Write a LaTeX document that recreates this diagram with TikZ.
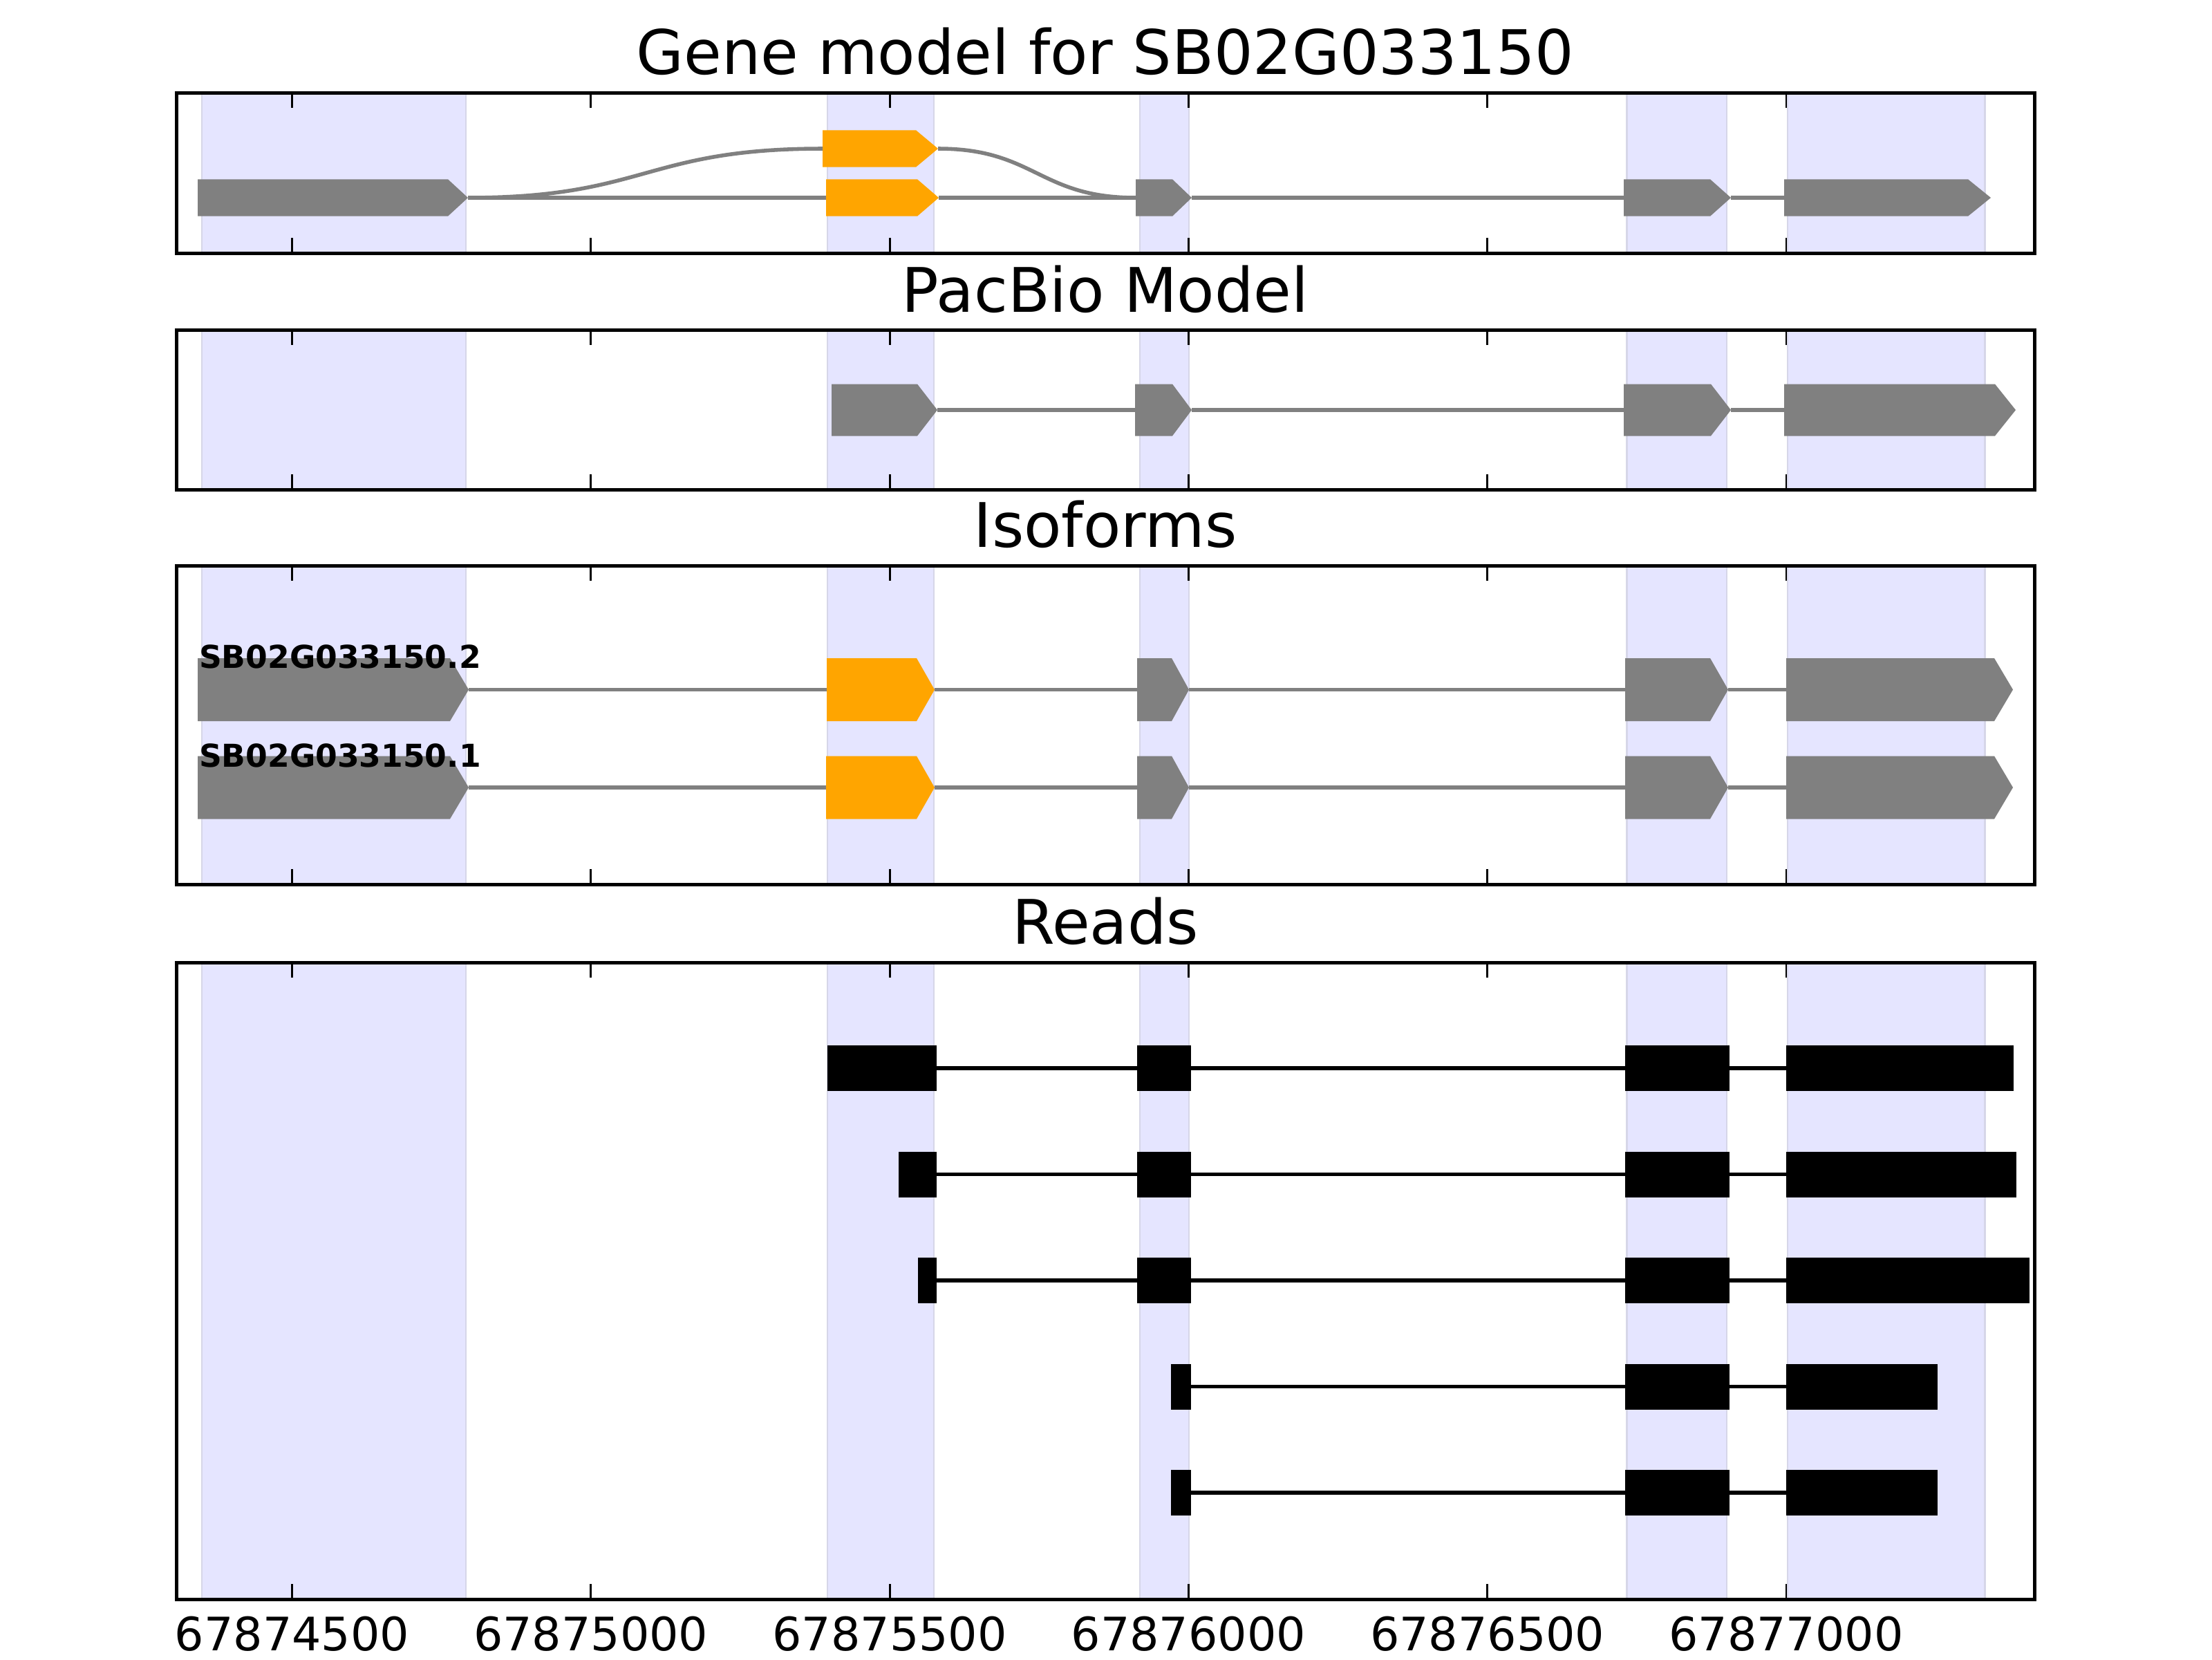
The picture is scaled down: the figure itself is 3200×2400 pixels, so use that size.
\documentclass[tikz,border=0pt]{standalone}
\usepackage{fontspec}
\setmainfont{DejaVu Sans}

\definecolor{exongray}{RGB}{128,128,128}
\definecolor{cdsorange}{RGB}{255,165,0}
\definecolor{bandfill}{RGB}{229,229,255}
\definecolor{bandedge}{RGB}{214,214,232}

\tikzset{
  panelframe/.style={draw=black, line width=0.9pt},
  band/.style={fill=bandfill, draw=bandedge, line width=0.4pt},
  intron/.style={draw=exongray, line width=1pt},
  readline/.style={draw=black, line width=1pt},
  tickmark/.style={draw=black, line width=0.5pt},
  paneltitle/.style={anchor=base, inner sep=0pt, font=\fontsize{16}{19}\selectfont},
  ticklabel/.style={anchor=base, inner sep=0pt, font=\fontsize{12}{14}\selectfont},
  isolabel/.style={anchor=base west, inner sep=0pt, font=\fontsize{8.2}{10}\selectfont\bfseries},
}

% name, x start, x tip, y centre, half height, tip length, colour
\newcommand{\exonbox}[7]{%
  \fill[#7] (#2,#4-#5) -- (#3-#6,#4-#5) -- (#3,#4) -- (#3-#6,#4+#5) -- (#2,#4+#5) -- cycle;
  \coordinate (#1s) at (#2,#4);
  \coordinate (#1e) at (#3,#4);
}
% name, x start, x end, y centre
\newcommand{\readbox}[4]{%
  \fill[black] (#2,#4-33) rectangle (#3,#4+33);
  \coordinate (#1s) at (#2,#4);
  \coordinate (#1e) at (#3,#4);
}
% top, bottom
\newcommand{\exonbands}[2]{%
  \foreach \xa/\xb in {292/674, 1197/1351, 1649/1720, 2353.5/2498, 2586/2871.5}
    \filldraw[band] (\xa,#1) rectangle (\xb,#2);
}
\newcommand{\paneltickmarks}[2]{%
  \foreach \tx in {422.5, 854.8, 1287.1, 1719.4, 2151.7, 2584} {
    \draw[tickmark] (\tx,#1) -- ++(0,22);
    \draw[tickmark] (\tx,#2) -- ++(0,-22);
  }
}

\begin{document}
\begin{tikzpicture}[x=0.18pt, y=-0.18pt]
\fill[white] (0,0) rectangle (3200,2400);
\useasboundingbox (0,0) rectangle (3200,2400);

% gene model
\exonbands{134}{366}
\exonbox{a1}{286}{677}{286}{26.7}{29}{exongray}
\exonbox{a2}{1190}{1357}{215}{26.7}{32}{cdsorange}
\exonbox{a3}{1195}{1358}{286}{26.7}{31}{cdsorange}
\exonbox{a4}{1643}{1724}{286}{26.7}{28}{exongray}
\exonbox{a5}{2349}{2504}{286}{26.7}{30}{exongray}
\exonbox{a6}{2581}{2880}{286}{26.7}{33}{exongray}
\draw[intron] (a1e) -- (a3s);
\draw[intron] (a3e) -- (a4s);
\draw[intron] (a4e) -- (a5s);
\draw[intron] (a5e) -- (a6s);
\draw[intron] (a1e) .. controls +(257,0) and +(-257,0) .. (a2s);
\draw[intron] (a2e) .. controls +(140,0) and +(-140,0) .. (a4s);
\paneltickmarks{134}{366}
\draw[panelframe] (255,134) rectangle (2943,366);
\node[paneltitle] (t1) at (1599,107) {Gene model for SB02G033150};

% pacbio
\exonbands{477}{708}
\exonbox{b1}{1203}{1356}{593}{37.5}{29}{exongray}
\exonbox{b2}{1642}{1724}{593}{37.5}{28}{exongray}
\exonbox{b3}{2349}{2504}{593}{37.5}{29}{exongray}
\exonbox{b4}{2581}{2916}{593}{37.5}{30}{exongray}
\draw[intron] (b1e) -- (b2s);
\draw[intron] (b2e) -- (b3s);
\draw[intron] (b3e) -- (b4s);
\paneltickmarks{477}{708}
\draw[panelframe] (255,477) rectangle (2943,708);
\node[paneltitle] (t2) at (1599,451) {PacBio Model};

% isoforms
\exonbands{818}{1279}
\exonbox{c1}{286}{678}{997.5}{45.5}{27}{exongray}
\exonbox{c2}{1196}{1352}{997.5}{45.5}{26}{cdsorange}
\exonbox{c3}{1645}{1720}{997.5}{45.5}{25}{exongray}
\exonbox{c4}{2351}{2500}{997.5}{45.5}{26}{exongray}
\exonbox{c5}{2584}{2912}{997.5}{45.5}{27}{exongray}
\exonbox{d1}{286}{678}{1139}{45.5}{27}{exongray}
\exonbox{d2}{1195}{1352}{1139}{45.5}{26}{cdsorange}
\exonbox{d3}{1645}{1720}{1139}{45.5}{25}{exongray}
\exonbox{d4}{2351}{2500}{1139}{45.5}{26}{exongray}
\exonbox{d5}{2584}{2912}{1139}{45.5}{27}{exongray}
\draw[intron] (c1e) -- (c2s);
\draw[intron] (c2e) -- (c3s);
\draw[intron] (c3e) -- (c4s);
\draw[intron] (c4e) -- (c5s);
\draw[intron] (d1e) -- (d2s);
\draw[intron] (d2e) -- (d3s);
\draw[intron] (d3e) -- (d4s);
\draw[intron] (d4e) -- (d5s);
\node[isolabel] (iso2) at (287,966) {SB02G033150.2};
\node[isolabel] (iso1) at (287,1109) {SB02G033150.1};
\paneltickmarks{818}{1279}
\draw[panelframe] (255,818) rectangle (2943,1279);
\node[paneltitle] (t3) at (1599,791) {Isoforms};

% reads
\exonbands{1392}{2313}
\readbox{r1a}{1197}{1355}{1545}
\readbox{r1b}{1645}{1722.5}{1545}
\readbox{r1c}{2351}{2502}{1545}
\readbox{r1d}{2584}{2912.5}{1545}
\readbox{r2a}{1300}{1355}{1698.5}
\readbox{r2b}{1645}{1722.5}{1698.5}
\readbox{r2c}{2351}{2502}{1698.5}
\readbox{r2d}{2584}{2917}{1698.5}
\readbox{r3a}{1327.5}{1355}{1852}
\readbox{r3b}{1645}{1722.5}{1852}
\readbox{r3c}{2351}{2502}{1852}
\readbox{r3d}{2584}{2936}{1852}
\readbox{r4b}{1694}{1722.5}{2005.5}
\readbox{r4c}{2351}{2502}{2005.5}
\readbox{r4d}{2584}{2802.7}{2005.5}
\readbox{r5b}{1694}{1722.5}{2159}
\readbox{r5c}{2351}{2502}{2159}
\readbox{r5d}{2584}{2802.7}{2159}
\draw[readline] (r1ae) -- (r1bs) (r1be) -- (r1cs) (r1ce) -- (r1ds);
\draw[readline] (r2ae) -- (r2bs) (r2be) -- (r2cs) (r2ce) -- (r2ds);
\draw[readline] (r3ae) -- (r3bs) (r3be) -- (r3cs) (r3ce) -- (r3ds);
\draw[readline] (r4be) -- (r4cs) (r4ce) -- (r4ds);
\draw[readline] (r5be) -- (r5cs) (r5ce) -- (r5ds);
\paneltickmarks{1392}{2313}
\draw[panelframe] (255,1392) rectangle (2943,2313);
\node[paneltitle] (t4) at (1599,1365) {Reads};

% axis labels
\foreach \tx/\lab/\nm in {422.5/67874500/x1, 854.8/67875000/x2, 1287.1/67875500/x3,
                          1719.4/67876000/x4, 2151.7/67876500/x5, 2584/67877000/x6}
  \node[ticklabel] (\nm) at (\tx,2387) {\lab};
\end{tikzpicture}
\end{document}
